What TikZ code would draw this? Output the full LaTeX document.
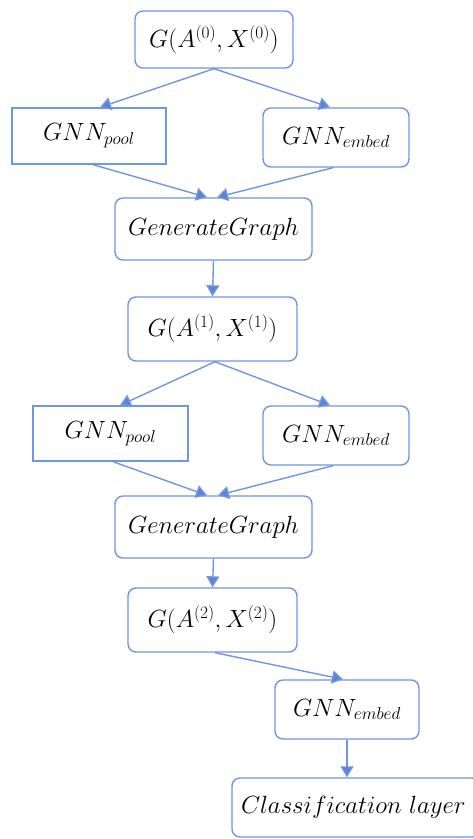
\documentclass[tikz,border=0pt]{standalone}
\usetikzlibrary{arrows.meta}
\definecolor{bline}{RGB}{112,150,224}
\definecolor{bhead}{RGB}{90,132,218}
\tikzset{
  box/.style={draw=bline, line width=1.4pt, rounded corners=8pt, fill=white, inner sep=0pt,
    font=\fontsize{23}{28}\selectfont},
  sbox/.style={box, rounded corners=0pt},
  arr/.style={draw=bline, line width=1.4pt, -{Triangle[length=11pt,width=13pt,fill=bhead]}},
}
\begin{document}
\begin{tikzpicture}[x=1pt,y=-1pt]
\useasboundingbox (0,0) rectangle (473,839);
\fill[white] (0,0) rectangle (473,839);
% level 0
\node[box, minimum width=158pt, minimum height=57pt] (g0) at (214,39.5) {$G(A^{(0)},X^{(0)})$};
\node[sbox, minimum width=154pt, minimum height=56pt] (p1) at (89,136) {$GNN_{pool}$};
\node[box, minimum width=146pt, minimum height=59pt] (e1) at (336,137.5) {$GNN_{embed}$};
\node[box, minimum width=197pt, minimum height=62pt] (gg1) at (213.5,229) {$GenerateGraph$};
% level 1
\node[box, minimum width=169pt, minimum height=64pt] (g1) at (212.5,329) {$G(A^{(1)},X^{(1)})$};
\node[sbox, minimum width=155pt, minimum height=55pt] (p2) at (110.5,433.5) {$GNN_{pool}$};
\node[box, minimum width=146pt, minimum height=59pt] (e2) at (336,435.5) {$GNN_{embed}$};
\node[box, minimum width=197pt, minimum height=62pt] (gg2) at (213.5,527) {$GenerateGraph$};
% level 2
\node[box, minimum width=169pt, minimum height=64pt] (g2) at (212.5,620) {$G(A^{(2)},X^{(2)})$};
\node[box, minimum width=144pt, minimum height=59pt] (e3) at (347,709.5) {$GNN_{embed}$};
\node[box, minimum width=248pt, minimum height=59pt, text width=230pt, align=left] (cl) at (356,807.5) {$Classification\ layer$};
% arrows
\draw[arr] (g0.south) -- ([xshift=11pt]p1.north);
\draw[arr] (g0.south) -- ([xshift=-6pt]e1.north);
\draw[arr] ([xshift=4pt]p1.south) -- ([xshift=-6.5pt]gg1.north);
\draw[arr] ([xshift=-3pt]e1.south) -- ([xshift=3.5pt]gg1.north);
\draw[arr] (gg1.south) -- (g1.north);
\draw[arr] ([xshift=2.5pt]g1.south) -- ([xshift=9.5pt]p2.north);
\draw[arr] ([xshift=2.5pt]g1.south) -- ([xshift=-6pt]e2.north);
\draw[arr] ([xshift=2.5pt]p2.south) -- ([xshift=-6.5pt]gg2.north);
\draw[arr] ([xshift=-3pt]e2.south) -- ([xshift=4.5pt]gg2.north);
\draw[arr] (gg2.south) -- (g2.north);
\draw[arr] ([xshift=2.5pt]g2.south) -- ([xshift=-4pt]e3.north);
\draw[arr] (e3.south) -- ([xshift=-9pt]cl.north);
\end{tikzpicture}
\end{document}
